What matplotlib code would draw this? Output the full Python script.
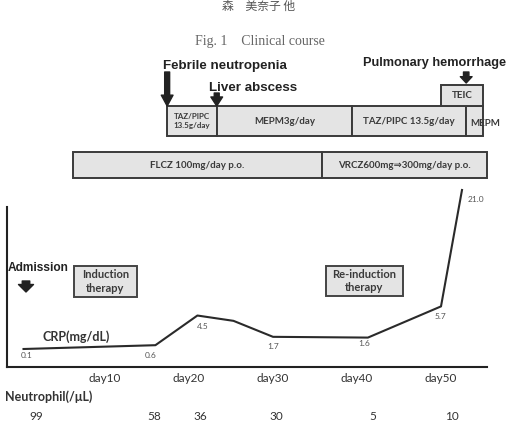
import matplotlib
matplotlib.use('Agg')
import matplotlib.pyplot as plt

# ---- data ----
crp_days = [0.3, 16, 21, 25.3, 30, 41.3, 50, 52.5]
crp_vals = [0.1, 0.6, 4.5, 3.8, 1.7, 1.6, 5.7, 21.0]
crp_labels = ['0.1', '0.6', '4.5', '', '1.7', '1.6', '5.7', '21.0']

neut_days = [1.8, 15.8, 21.3, 30.4, 41.9, 51.3]
neut_vals = ['99', '58', '36', '30', '5', '10']

day_ticks = [10, 20, 30, 40, 50]
day_labels = ['day10', 'day20', 'day30', 'day40', 'day50']

abx_names = ['TAZ/PIPC\n13.5g/day', 'MEPM3g/day', 'TAZ/PIPC 13.5g/day', '']
abx_start = [17.4, 23.3, 39.4, 53.0]
abx_end = [23.3, 39.4, 53.0, 55.0]

teic_start = [50.0]
teic_end = [55.0]

afn_names = ['FLCZ 100mg/day p.o.', 'VRCZ600mg\u21d2300mg/day p.o.']
afn_start = [6.2, 35.8]
afn_end = [35.8, 55.5]

event_names = ['Febrile neutropenia', 'Liver abscess', 'Pulmonary hemorrhage']
event_days = [17.4, 23.3, 53.0]

W, H = 511, 437
PX = 21.0   # pixel x of day 0
SC = 8.4    # pixels per day

fig = plt.figure(figsize=(W / 100, H / 100), dpi=100)

# overlay axes: x in days, y in pixels from the top
ax0 = fig.add_axes([0, 0, 1, 1])
ax0.set_xlim(-PX / SC, (W - PX) / SC)
ax0.set_ylim(H, 0)
ax0.axis('off')

# chart axes for CRP
left, right, top, bottom = 7, 487, 207, 367
ax = fig.add_axes([left / W, (H - bottom) / H, (right - left) / W, (bottom - top) / H])
ax.set_xlim((left - PX) / SC, (right - PX) / SC)
ppu = (349 - 190) / (21.0 - 0.1)
ax.set_ylim(0.1 - (bottom - 349) / ppu, 0.1 + (349 - top) / ppu)
ax.patch.set_alpha(0)
for s in ['top', 'right']:
    ax.spines[s].set_visible(False)
for s in ['left', 'bottom']:
    ax.spines[s].set_linewidth(1.5)
    ax.spines[s].set_color('#222222')
ax.set_yticks([])
ax.set_xticks(day_ticks)
ax.set_xticklabels(day_labels, fontsize=8.5, family='Lato', color='#333333')
ax.tick_params(axis='x', length=0, pad=4)

ax.plot(crp_days, crp_vals, color='#2a2a2a', lw=1.5, clip_on=False)
offs = [(3, -7), (-5, -10), (5, -11), (0, 0), (0, -10), (-4, -6), (-1, -10), (14, -9)]
for d, v, lab, o in zip(crp_days, crp_vals, crp_labels, offs):
    if lab:
        ax.annotate(lab, (d, v), xytext=o, textcoords='offset pixels',
                    ha='center', va='center', fontsize=6, family='Lato',
                    color='#555555', annotation_clip=False)

# header text
ax0.text((259 - PX) / SC, 6, '森\u3000美奈子 他', ha='center', va='center',
         fontsize=8.5, family=['Noto Sans CJK JP'], color='#555555')
ax0.text((260 - PX) / SC, 42, 'Fig. 1\u3000Clinical course', ha='center', va='center',
         fontsize=10, family=['Liberation Serif', 'Noto Sans CJK JP'], color='#666666')

box_kw = dict(color='#e4e4e4', edgecolor='#3a3a3a', linewidth=1.4)
txt_kw = dict(ha='center', va='center', fontweight='bold', color='#3a3a3a')
fam = ['Lato', 'DejaVu Sans']

# antibiotic row
widths = [e - s for s, e in zip(abx_start, abx_end)]
ax0.barh([121] * len(abx_start), widths, left=abx_start, height=30, **box_kw)
for s, e, n in zip(abx_start, abx_end, abx_names):
    if n:
        fs = 5.8 if '\n' in n else 7
        ax0.text((s + e) / 2, 121, n, fontsize=fs, linespacing=1.4, family=fam, **txt_kw)
ax0.text((485 - PX) / SC, 123, 'MEPM', fontsize=7, family=fam, **txt_kw)

widths = [e - s for s, e in zip(teic_start, teic_end)]
ax0.barh([95.5], widths, left=teic_start, height=21, **box_kw)
ax0.text((teic_start[0] + teic_end[0]) / 2, 96, 'TEIC', fontsize=7, family=fam, **txt_kw)

# antifungal row
widths = [e - s for s, e in zip(afn_start, afn_end)]
ax0.barh([165] * len(afn_start), widths, left=afn_start, height=26, **box_kw)
for s, e, n in zip(afn_start, afn_end, afn_names):
    ax0.text((s + e) / 2, 165, n, fontsize=7, family=fam, **txt_kw)

# events
lbl_kw = dict(family='Liberation Sans', fontweight='bold',
              color='#222222', va='center', ha='left')
ev_label_pos = [((163 - PX) / SC, 66), ((209 - PX) / SC, 88), ((363 - PX) / SC, 63)]
ev_size = [9.6, 9.6, 9.2]
ev_arrow = [(72, 106, 'simple,head_length=1.2,head_width=1.3,tail_width=0.55'),
            (93, 106, 'simple,head_length=1.0,head_width=1.3,tail_width=0.55'),
            (72, 83, 'simple,head_length=0.7,head_width=1.3,tail_width=0.6')]
for name, d, (lx, ly), fs, (y0, y1, st) in zip(event_names, event_days, ev_label_pos,
                                               ev_size, ev_arrow):
    ax0.text(lx, ly, name, fontsize=fs, **lbl_kw)
    ax0.annotate('', xy=(d, y1), xytext=(d, y0),
                 arrowprops=dict(arrowstyle=st, fc='#222222', ec='#222222',
                                 mutation_scale=6.5, shrinkA=0, shrinkB=0))

# admission
ax0.text((8 - PX) / SC, 268, 'Admission', fontsize=8.6, **lbl_kw)
ax0.annotate('', xy=((26 - PX) / SC, 292), xytext=((26 - PX) / SC, 281),
             arrowprops=dict(arrowstyle='simple,head_length=0.6,head_width=1.2,tail_width=0.6',
                             fc='#222222', ec='#222222', mutation_scale=9,
                             shrinkA=0, shrinkB=0))

# therapy boxes
ther_kw = dict(color='#e4e4e4', edgecolor='#444444', linewidth=1.4)
ax0.barh([281.5], [(137 - 74) / SC], left=[(74 - PX) / SC], height=31, **ther_kw)
ax0.text((105.5 - PX) / SC, 281.5, 'Induction\ntherapy', fontsize=8, linespacing=1.3,
         family=fam, **txt_kw)
ax0.barh([281], [(403 - 326) / SC], left=[(326 - PX) / SC], height=30, **ther_kw)
ax0.text((364.5 - PX) / SC, 281, 'Re-induction\ntherapy', fontsize=8, linespacing=1.3,
         family=fam, **txt_kw)

ax0.text((42 - PX) / SC, 337, 'CRP(mg/dL)', fontsize=9, family='Lato', fontweight='bold',
         color='#333333', ha='left', va='center')

# neutrophil row
ax0.text((5 - PX) / SC, 397, 'Neutrophil(/\u03bcL)', fontsize=9,
         family=['Lato', 'Noto Sans CJK JP'], fontweight='bold', color='#333333',
         ha='left', va='center')
for d, n in zip(neut_days, neut_vals):
    ax0.text(d, 417, n, fontsize=8.5, family='Lato', color='#333333',
             ha='center', va='center')

fig.savefig('out.png', dpi=100)
